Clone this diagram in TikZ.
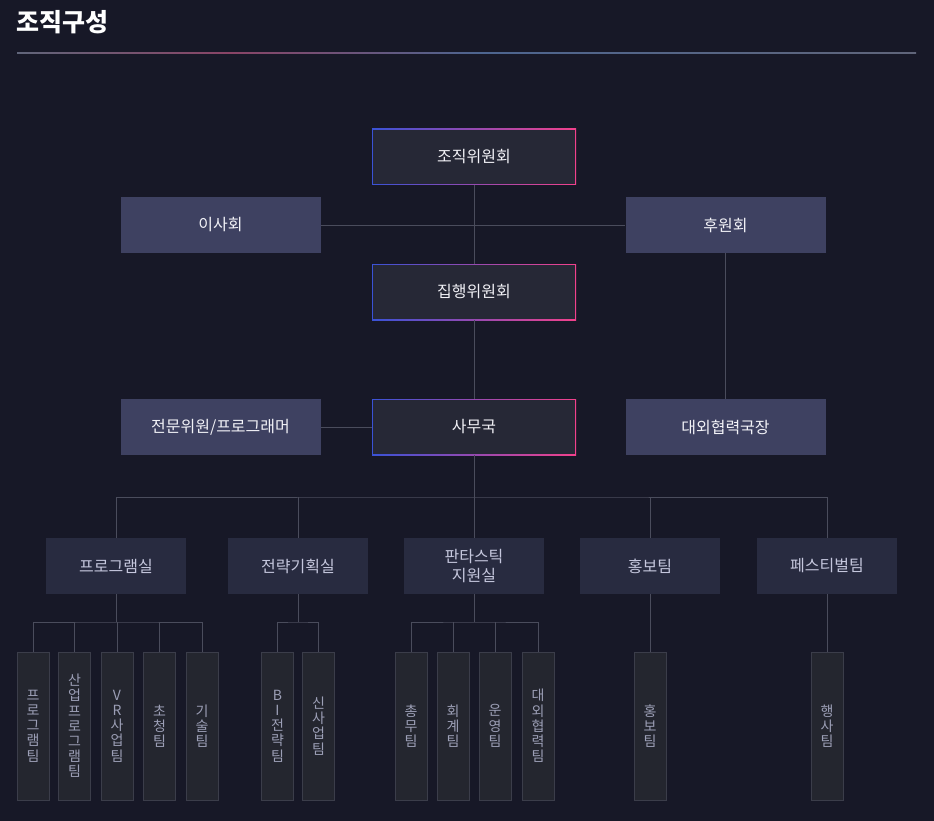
\documentclass[tikz,border=0pt]{standalone}
\usepackage{fontspec}
\setmainfont{Noto Sans CJK KR}
\usetikzlibrary{positioning}

\definecolor{bgcol}{HTML}{171827}
\definecolor{mainfill}{HTML}{262836}
\definecolor{gradblue}{HTML}{3A52D6}
\definecolor{gradpink}{HTML}{F2418C}
\definecolor{sidefill}{HTML}{3E4161}
\definecolor{secfill}{HTML}{282B40}
\definecolor{teamfill}{HTML}{24262F}
\definecolor{teamline}{HTML}{3B3D4A}
\definecolor{linkcol}{HTML}{4A4C5C}
\definecolor{txtwhite}{HTML}{F2F2F7}
\definecolor{sectxt}{HTML}{C5C7DD}
\definecolor{teamtxt}{HTML}{9C9FB6}
\definecolor{rulegray}{HTML}{60657A}
\definecolor{rulepink}{HTML}{8A4466}
\definecolor{ruleblue}{HTML}{4D6590}

\tikzset{
  mainbox/.style={rectangle, minimum width=204pt, minimum height=56pt, inner sep=0pt,
    left color=gradblue, right color=gradpink,
    path picture={\fill[mainfill] ([shift={(1pt,-1pt)}]path picture bounding box.north west)
      rectangle ([shift={(-1pt,1pt)}]path picture bounding box.south east);},
    text=txtwhite, font=\fontsize{16}{19}\selectfont},
  sidebox/.style={rectangle, fill=sidefill, minimum width=200pt, minimum height=56pt,
    inner sep=0pt, text=txtwhite, font=\fontsize{16}{19}\selectfont},
  secbox/.style={rectangle, fill=secfill, minimum width=140pt, minimum height=56pt,
    inner sep=0pt, align=center, text=sectxt, font=\fontsize{16}{18.5}\selectfont},
  teambox/.style={rectangle, fill=teamfill, draw=teamline, line width=1pt,
    minimum width=32pt, minimum height=148pt, inner sep=0pt, align=center,
    text=teamtxt, font=\fontsize{14}{15.2}\selectfont},
  link/.style={draw=linkcol, line width=1pt}
}

\begin{document}
\begin{tikzpicture}[x=1pt,y=-1pt]
    \fill[bgcol] (0,0) rectangle (934,821);

    % title and rule
    \node[anchor=west, inner sep=0pt, text=white, font=\fontsize{25}{29}\bfseries\selectfont]
      (title) at (16,22.5) {조직구성};
    \shade[left color=rulegray, right color=rulepink] (17,52.5) rectangle (230,53.5);
    \shade[left color=rulepink, right color=ruleblue] (230,52.5) rectangle (480,53.5);
    \shade[left color=ruleblue, right color=rulegray] (480,52.5) rectangle (916,53.5);

    % upper levels
    \node[mainbox] (jojik) at (474,157) {조직위원회};
    \node[sidebox] (isa) at (220.5,225) {이사회};
    \node[sidebox] (huwon) at (725.5,225) {후원회};
    \node[mainbox] (jiphaeng) at (474,292) {집행위원회};
    \node[mainbox] (samu) at (474,427) {사무국};
    \node[sidebox] (jeonmun) at (220.5,427) {전문위원/프로그래머};
    \node[sidebox] (daeoe) at (725.5,427) {대외협력국장};

    \draw[link] (jojik) -- (jiphaeng);
    \draw[link] (isa) -- (huwon);
    \draw[link] (huwon) -- (daeoe);
    \draw[link] (jiphaeng) -- (samu);
    \draw[link] (jeonmun) -- (samu);

    % sections
    \node[secbox] (prog) at (116,566) {프로그램실};
    \node[secbox] (strat) at (298,566) {전략기획실};
    \node[secbox] (fant) at (474,566) {판타스틱\\지원실};
    \node[secbox] (pr) at (650,566) {홍보팀};
    \node[secbox] (fest) at (827,566) {페스티벌팀};

    \coordinate (bus) at (474,497);
    \draw[link] (samu) -- (bus);
    \draw[link] (prog.north) |- (bus) -| (fest.north);
    \foreach \s in {strat,fant,pr}
        \draw[link] (\s.north) -- (\s.north |- bus);

    % teams
    \foreach \nm/\x/\txt in {
        t1/33/{프\\로\\그\\램\\팀},
        t2/74.5/{산\\업\\프\\로\\그\\램\\팀},
        t3/117/{V\\R\\사\\업\\팀},
        t4/159.5/{초\\청\\팀},
        t5/202/{기\\술\\팀},
        t6/277.5/{B\\I\\전\\략\\팀},
        t7/318.5/{신\\사\\업\\팀},
        t8/411/{총\\무\\팀},
        t9/453/{회\\계\\팀},
        t10/495/{운\\영\\팀},
        t11/538/{대\\외\\협\\력\\팀},
        t12/650/{홍\\보\\팀},
        t13/827/{행\\사\\팀}}
        \node[teambox] (\nm) at (\x,726) {\txt};

    \coordinate (progbus) at (116,622);
    \coordinate (stratbus) at (298,622);
    \coordinate (fantbus) at (474,622);
    \draw[link] (prog) -- (progbus);
    \draw[link] (t1.north) |- (progbus) -| (t5.north);
    \foreach \t in {t2,t3,t4}
        \draw[link] (\t.north) -- (\t.north |- progbus);
    \draw[link] (strat) -- (stratbus);
    \draw[link] (t6.north) |- (stratbus) -| (t7.north);
    \draw[link] (fant) -- (fantbus);
    \draw[link] (t8.north) |- (fantbus) -| (t11.north);
    \foreach \t in {t9,t10}
        \draw[link] (\t.north) -- (\t.north |- fantbus);
    \draw[link] (pr) -- (t12);
    \draw[link] (fest) -- (t13);
\end{tikzpicture}
\end{document}
